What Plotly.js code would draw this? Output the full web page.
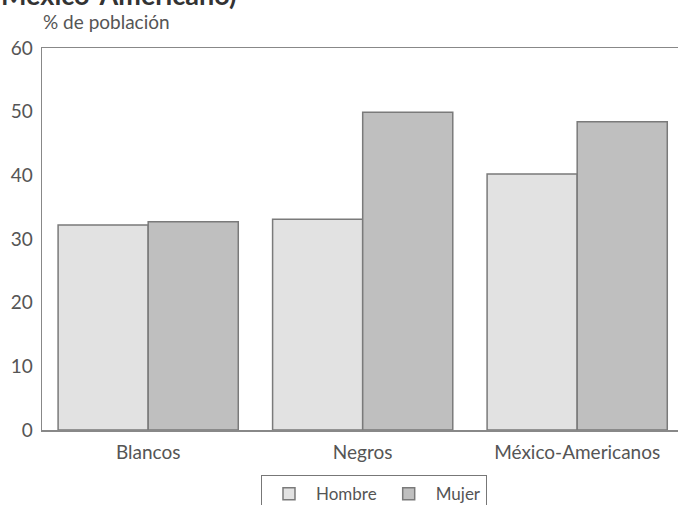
<!DOCTYPE html>
<html>
<head>
<meta charset="utf-8">
<script src="https://cdn.plot.ly/plotly-3.0.1.min.js"></script>
<style>
  html, body { margin: 0; padding: 0; background: #ffffff; }
  #chart { width: 682px; height: 505px; }
</style>
</head>
<body>
<div id="chart"></div>
<script>
// Población por grupo y sexo (%)
const grupos = ['Blancos', 'Negros', 'México-Americanos'];
const hombre = [32.2, 33.1, 40.2];
const mujer = [32.7, 49.9, 48.4];
const yTicks = [0, 10, 20, 30, 40, 50, 60];

const txt = '#555555';
const fontFam = 'Lato, "Open Sans", sans-serif';

const traces = [
  {
    type: 'bar', name: 'Hombre', x: grupos, y: hombre,
    marker: { color: '#e2e2e2', line: { color: '#7a7a7a', width: 1.5 } },
    hoverinfo: 'skip'
  },
  {
    type: 'bar', name: 'Mujer', x: grupos, y: mujer,
    marker: { color: '#bfbfbf', line: { color: '#7a7a7a', width: 1.5 } },
    hoverinfo: 'skip'
  }
];

const layout = {
  width: 682, height: 505,
  margin: { l: 42, r: 4, t: 48, b: 75, autoexpand: false },
  paper_bgcolor: '#ffffff', plot_bgcolor: '#ffffff',
  font: { family: fontFam, color: txt, size: 18 },
  barmode: 'group',
  bargap: 0.16, bargroupgap: 0,
  showlegend: true,
  legend: {
    orientation: 'h', x: 0.522, xanchor: 'center',
    y: -0.118, yanchor: 'top',
    bordercolor: '#777777', borderwidth: 1,
    font: { size: 17, color: txt }, traceorder: 'normal',
    itemwidth: 44
  },
  xaxis: {
    type: 'category', range: [-0.495, 2.47],
    showline: true, linecolor: '#888888', linewidth: 1.5, mirror: true,
    ticks: 'outside', ticklen: 5, tickcolor: 'rgba(0,0,0,0)',
    tickfont: { size: 19, color: txt },
    showgrid: false, zeroline: false
  },
  yaxis: {
    range: [0, 60], tickvals: yTicks,
    showline: true, linecolor: '#888888', linewidth: 1.5,
    ticks: 'outside', ticklen: 4, tickcolor: 'rgba(0,0,0,0)',
    tickfont: { size: 19, color: txt },
    showgrid: false, zeroline: false
  },
  annotations: [
    {
      text: '% de población', xref: 'paper', yref: 'paper',
      x: -0.002, y: 1.069, xanchor: 'left', yanchor: 'middle',
      showarrow: false, font: { size: 19, color: txt }
    },
    {
      text: '<b>México-Americano)</b>', xref: 'paper', yref: 'paper',
      x: 0.308, y: 1.14, xanchor: 'right', yanchor: 'middle',
      showarrow: false, font: { size: 27, color: '#333333' }
    }
  ]
};

Plotly.newPlot('chart', traces, layout, { staticPlot: true, displayModeBar: false });
</script>
</body>
</html>
